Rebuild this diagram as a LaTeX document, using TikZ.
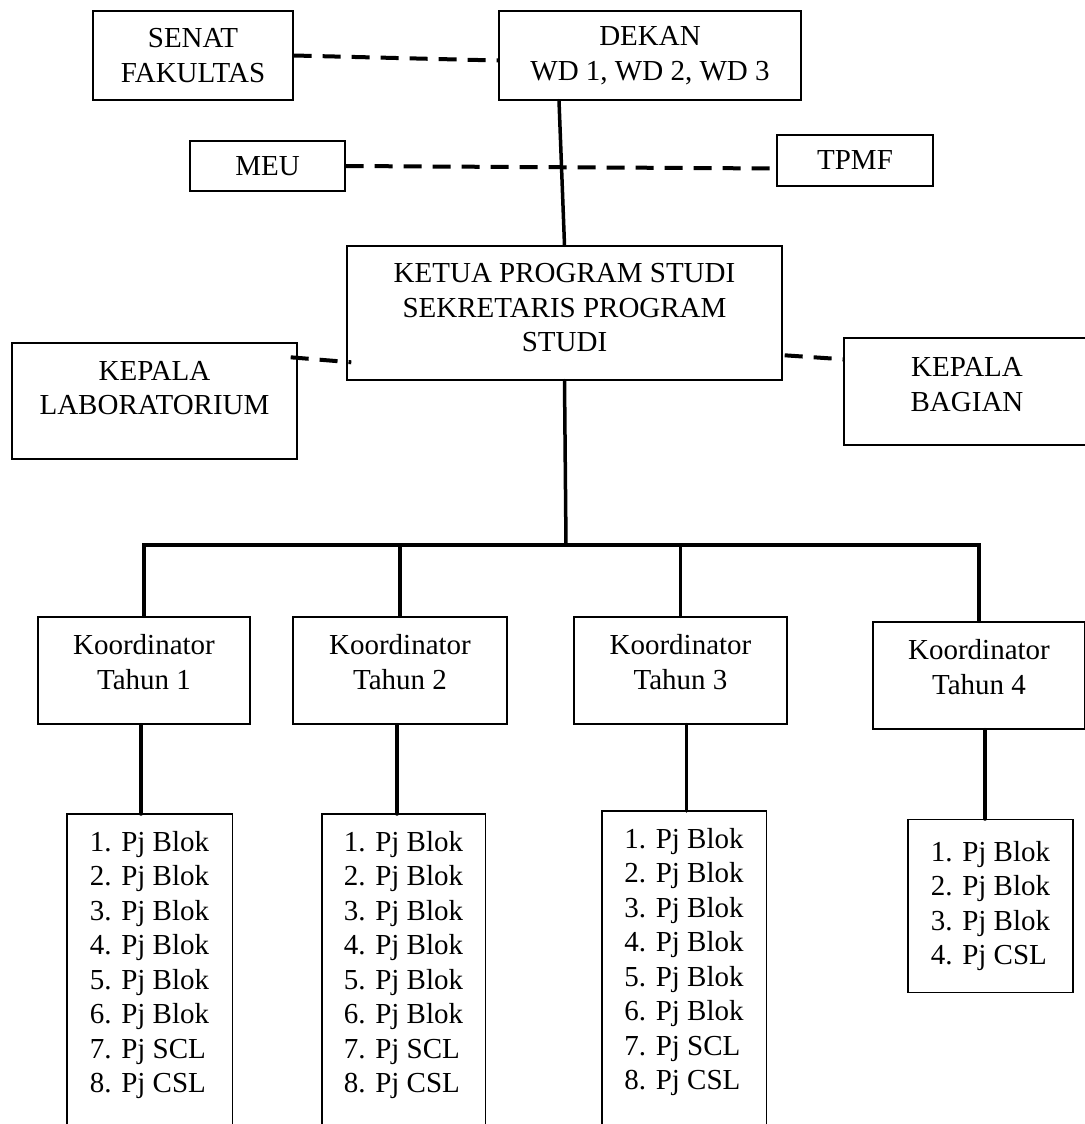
\documentclass[tikz,border=0pt]{standalone}
\usepackage{fontspec}
\setmainfont{Liberation Serif}

\begin{document}
\begin{tikzpicture}[
  x=1pt, y=-1pt,
  font=\fontsize{29}{34.5}\selectfont,
  frame/.style={line width=1.4pt},
  box/.style={frame, draw, align=center, inner sep=0pt},
  lst/.style={align=left, anchor=north, inner xsep=0pt, inner ysep=17pt,
              minimum width=165pt},
  link/.style={line width=3.5pt, line cap=round},
  dlink/.style={line width=4pt, dash pattern=on 18pt off 11pt},
]
\useasboundingbox (0,0) rectangle (1084,1124);
\coordinate (bot) at (0,1130);

%% ── top level ─────────────────────────────────────────────────────
\node[box, minimum width=200pt, minimum height=89pt] (SF)
  at (193, 55.5) {SENAT\\FAKULTAS};
\node[box, minimum width=302pt, minimum height=89pt] (DK)
  at (650, 55.5) {DEKAN\\WD 1, WD 2, WD 3};

\node[box, minimum width=155pt, minimum height=50pt] (MEU)
  at (267.5, 166) {MEU};
\node[box, minimum width=156pt, minimum height=51pt] (TP)
  at (855, 160.5) {TPMF};

%% ── program studi ─────────────────────────────────────────────────
\node[box, minimum width=435pt, minimum height=134pt, text depth=11pt] (KP)
  at (564.5, 313) {KETUA PROGRAM STUDI\\SEKRETARIS PROGRAM\\STUDI};
\node[box, minimum width=285pt, minimum height=116pt, text depth=26pt] (LB)
  at (154.5, 401) {KEPALA\\LABORATORIUM};
\node[box, minimum width=246pt, minimum height=107pt, text depth=14pt] (KB)
  at (967, 391.5) {KEPALA\\BAGIAN};

%% ── koordinator tahun ─────────────────────────────────────────────
\node[box, minimum width=212pt, minimum height=107pt, text depth=17pt] (K1)
  at (144, 670.5) {Koordinator\\Tahun 1};
\node[box, minimum width=214pt, minimum height=107pt, text depth=17pt] (K2)
  at (400, 670.5) {Koordinator\\Tahun 2};
\node[box, minimum width=213pt, minimum height=107pt, text depth=17pt] (K3)
  at (680.5, 670.5) {Koordinator\\Tahun 3};
\node[box, minimum width=212pt, minimum height=107pt, text depth=17pt] (K4)
  at (979, 675.5) {Koordinator\\Tahun 4};

%% ── penanggung jawab lists ────────────────────────────────────────
% open at the bottom
\node[lst] (L1) at (149.5, 814)
  {1. Pj Blok\\2. Pj Blok\\3. Pj Blok\\4. Pj Blok\\5. Pj Blok\\6. Pj Blok\\7. Pj SCL\\8. Pj CSL};
\node[lst, minimum width=163pt] (L2) at (403.5, 814)
  {1. Pj Blok\\2. Pj Blok\\3. Pj Blok\\4. Pj Blok\\5. Pj Blok\\6. Pj Blok\\7. Pj SCL\\8. Pj CSL};
\node[lst, minimum width=164pt] (L3) at (684, 811)
  {1. Pj Blok\\2. Pj Blok\\3. Pj Blok\\4. Pj Blok\\5. Pj Blok\\6. Pj Blok\\7. Pj SCL\\8. Pj CSL};
\foreach \l in {L1,L2,L3}
  \draw[frame] (\l.north west |- bot) |- (\l.north) -| (\l.north east |- bot);

% closed box, year 4
\node[lst, frame, draw, minimum height=173pt] (L4) at (990.5, 819)
  {1. Pj Blok\\2. Pj Blok\\3. Pj Blok\\4. Pj CSL};

%% dashed lines
\draw[dlink] (SF.east) -- ([yshift=-5pt]DK.west);
\draw[dlink] (MEU.east) -- ([yshift=-8pt]TP.west);
\draw[dlink] ([xshift=-7pt,yshift=-15pt]LB.north east)
          -- ([xshift=5pt,yshift=-117pt]KP.north west);
\draw[dlink] ([xshift=2pt,yshift=-110pt]KP.north east)
          -- ([yshift=-22pt]KB.north west);

%% solid lines
\draw[link] ([xshift=-91pt]DK.south) -- (KP.north);
\coordinate (bar) at (566, 545);
\draw[link] (KP.south) -- (bar);
\draw[link] (K1.north) |- (K4.north |- bar) -- (K4.north);
\draw[link] (K2.north |- bar) -- (K2.north);
\draw[link] (K3.north |- bar) -- (K3.north);

\foreach \k/\dx in {1/-3, 2/-3, 3/6, 4/6}
  \draw[link] ([xshift=\dx pt]K\k.south) -- ([xshift=\dx pt]K\k.south |- L\k.north);

\end{tikzpicture}
\end{document}
